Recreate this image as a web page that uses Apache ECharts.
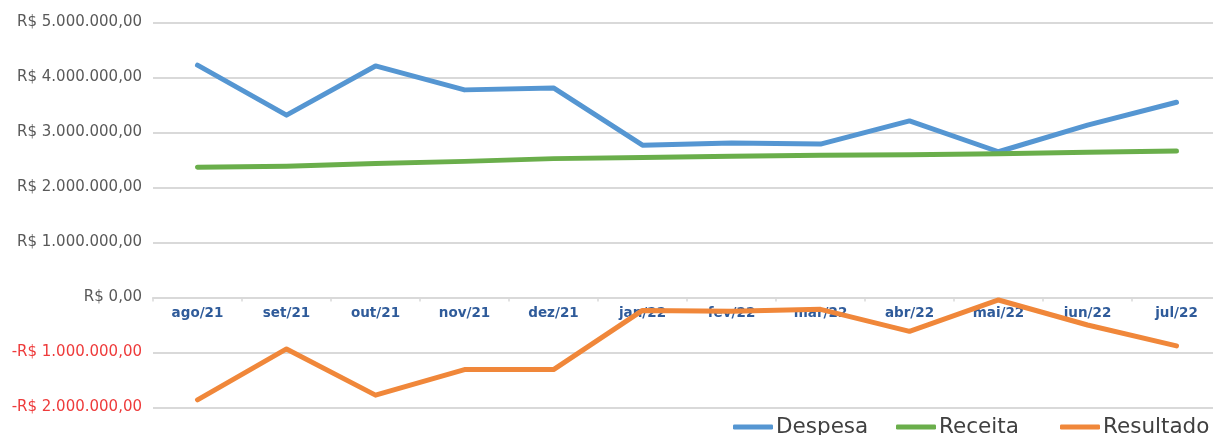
<!DOCTYPE html>
<html>
<head>
<meta charset="utf-8">
<script src="https://cdn.jsdelivr.net/npm/echarts@6/dist/echarts.min.js"></script>
<style>
  html, body { margin: 0; padding: 0; background: #fff; overflow: hidden; }
  #chart { width: 1221px; height: 435px; }
</style>
</head>
<body>
<div id="chart"></div>
<script>
const months = ['ago/21', 'set/21', 'out/21', 'nov/21', 'dez/21', 'jan/22', 'fev/22', 'mar/22', 'abr/22', 'mai/22', 'jun/22', 'jul/22']
const despesa = [4225000, 3315000, 4210000, 3775000, 3810000, 2770000, 2810000, 2790000, 3210000, 2650000, 3135000, 3550000]
const receita = [2370000, 2385000, 2435000, 2475000, 2525000, 2545000, 2570000, 2585000, 2595000, 2615000, 2640000, 2665000]
const resultado = [-1860000, -935000, -1775000, -1310000, -1310000, -235000, -250000, -215000, -615000, -45000, -500000, -880000]
const seriesNames = ['Despesa', 'Receita', 'Resultado']

const fontFamily = "'DejaVu Sans', sans-serif"

const fmtBRL = (v) => {
    const neg = v < 0
    const s = Math.abs(v).toFixed(2).split('.')
    const intPart = s[0].replace(/\B(?=(\d{3})+(?!\d))/g, '.')
    const txt = 'R$ ' + intPart + ',' + s[1]
    return neg ? '{neg|-' + txt + '}' : txt
}

const chart = echarts.init(document.getElementById('chart'))

const lineSeries = (name, data, color) => ({
    name: name,
    type: 'line',
    data: data,
    showSymbol: false,
    symbol: 'none',
    lineStyle: { width: 5, color: color, cap: 'round', join: 'round' },
    itemStyle: { color: color },
    animation: false
})

// one legend per item so each sits where the original puts it
const legendAt = (name, left) => ({
    data: [name],
    bottom: -8,
    left: left,
    itemWidth: 40,
    itemHeight: 5,
    icon: 'roundRect',
    textStyle: { fontSize: 21.5, color: '#404040', fontFamily: fontFamily, padding: [0, 0, 2, -2] }
})

chart.setOption({
    textStyle: { fontFamily: fontFamily },
    grid: { left: 153, right: 0, top: 22.5, bottom: 27.5 },
    legend: [
        legendAt(seriesNames[0], 728),
        legendAt(seriesNames[1], 891),
        legendAt(seriesNames[2], 1055)
    ],
    xAxis: {
        type: 'category',
        data: months,
        boundaryGap: true,
        offset: -110,
        axisLine: { onZero: false, lineStyle: { color: '#d9d9d9', width: 2 } },
        axisTick: { show: true, length: 4, lineStyle: { color: '#d9d9d9', width: 1.5 } },
        axisLabel: { color: '#2f5b9a', fontSize: 13.5, fontWeight: 'bold', margin: 9, fontFamily: fontFamily },
        splitLine: { show: false }
    },
    yAxis: {
        type: 'value',
        min: -2000000,
        max: 5000000,
        interval: 1000000,
        axisLine: { show: false },
        axisTick: { show: false },
        axisLabel: {
            color: '#595959',
            fontSize: 15,
            margin: 11,
            fontFamily: fontFamily,
            formatter: fmtBRL,
            rich: { neg: { color: '#ee3b3b', fontSize: 15, fontFamily: fontFamily } }
        },
        splitLine: { lineStyle: { color: '#d9d9d9', width: 2 } }
    },
    series: [
        lineSeries(seriesNames[0], despesa, '#5596d2'),
        lineSeries(seriesNames[1], receita, '#6aae4b'),
        lineSeries(seriesNames[2], resultado, '#f0873a')
    ]
})
</script>
</body>
</html>
